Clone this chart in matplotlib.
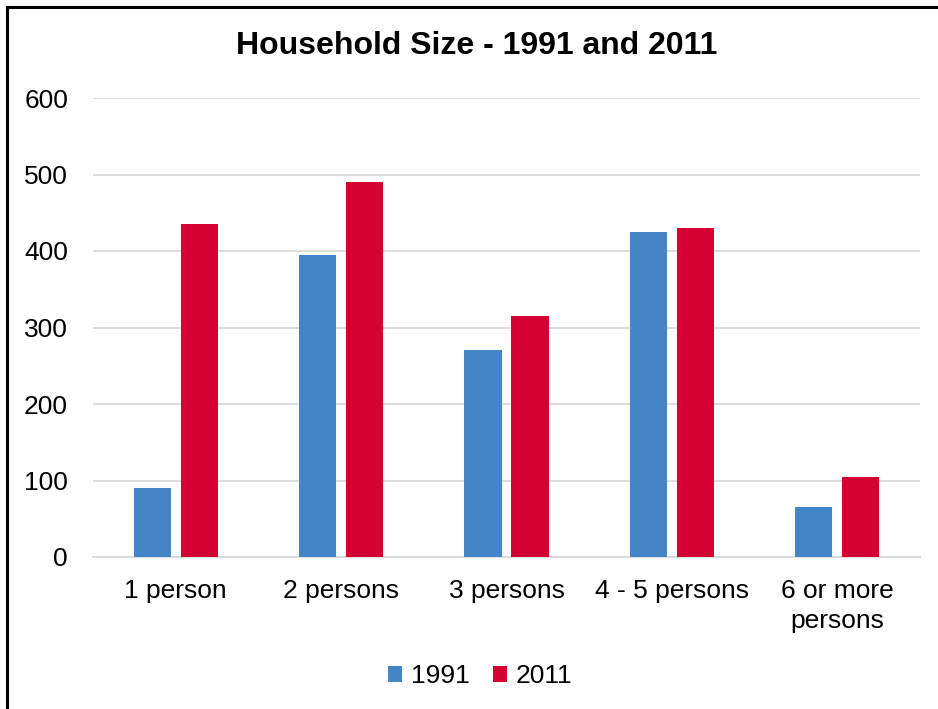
import matplotlib.pyplot as plt
import numpy as np
from matplotlib.patches import Rectangle

plt.rcParams['font.family'] = ['Liberation Sans', 'DejaVu Sans']

categories = ['1 person', '2 persons', '3 persons', '4 - 5 persons', '6 or more\npersons']
vals_1991 = [90, 395, 270, 425, 65]
vals_2011 = [435, 490, 315, 430, 105]
y_ticks = [0, 100, 200, 300, 400, 500, 600]

col_1991 = '#4286C8'
col_2011 = '#D50032'

fig = plt.figure(figsize=(9.38, 7.09), dpi=100)
ax = fig.add_axes([93 / 938, 1 - 557 / 709, 827 / 938, 459 / 709])

x = np.arange(len(categories))
w = 0.224
off = 0.142
ax.bar(x - off, vals_1991, width=w, color=col_1991, label='1991', zorder=3)
ax.bar(x + off, vals_2011, width=w, color=col_2011, label='2011', zorder=3)

ax.set_xlim(-0.5, len(categories) - 0.5)
ax.set_ylim(0, 600)
ax.set_yticks(y_ticks)
ax.set_xticks(x)
ax.set_xticklabels(categories, fontsize=19, linespacing=1.32)
ax.tick_params(axis='y', labelsize=19, length=0, pad=18)
ax.tick_params(axis='x', length=0, pad=16)
ax.yaxis.grid(True, color='#D9D9D9', linewidth=1.3, zorder=0)
for s in ['top', 'right', 'left']:
    ax.spines[s].set_visible(False)
ax.spines['bottom'].set_color('#D9D9D9')
ax.spines['bottom'].set_linewidth(1.3)

fig.text(0.508, 1 - 46 / 709, 'Household Size - 1991 and 2011', ha='center', va='center',
         fontsize=23, fontweight='bold')

ax.legend(loc='center', bbox_to_anchor=(0.512, 1 - 676 / 709), bbox_transform=fig.transFigure,
          ncol=2, frameon=False, fontsize=19, handlelength=0.54, handleheight=0.54,
          handletextpad=0.34, columnspacing=0.87)

# frame around the chart (only left/top edges visible in the image)
fig.patches.append(Rectangle((7 / 938, -0.1), 1.2, 1 - 7 / 709 + 0.1, transform=fig.transFigure,
                             fill=False, edgecolor='black', linewidth=2.2))

fig.savefig('out.png', dpi=100)
